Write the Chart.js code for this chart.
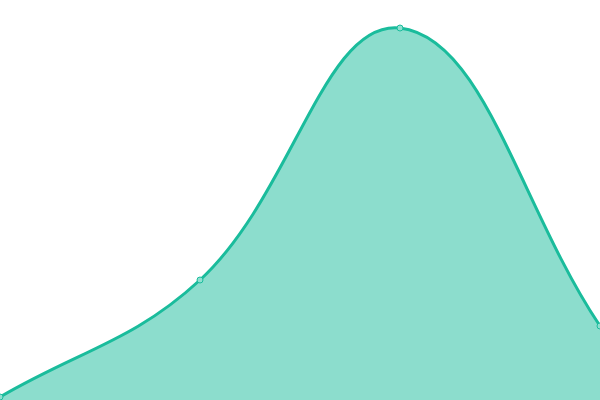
<!DOCTYPE html>
<html>
<head>
<meta charset="utf-8">
<script src="https://cdn.jsdelivr.net/npm/chart.js@4/dist/chart.umd.min.js"></script>
<style>
  html, body { margin: 0; padding: 0; background: #fff; }
  #wrap { width: 600px; height: 400px; }
</style>
</head>
<body>
<div id="wrap"><canvas id="chart"></canvas></div>
<script>
// data (y scale 0..100)
const labels = ['A', 'B', 'C', 'D'];
const values = [0.75, 30, 93, 18.5];

new Chart(document.getElementById('chart').getContext('2d'), {
  type: 'line',
  data: {
    labels,
    datasets: [{
      data: values,
      borderColor: '#1abc9c',
      backgroundColor: 'rgba(26,188,156,0.5)',
      pointBackgroundColor: '#8fe0d0',
      pointBorderColor: '#1abc9c',
      pointBorderWidth: 1,
      pointRadius: 3,
      borderWidth: 3,
      fill: true,
      tension: 0.4
    }]
  },
  options: {
    responsive: true, maintainAspectRatio: false, animation: false,
    layout: { padding: 0, autoPadding: false },
    plugins: { legend: { display: false }, tooltip: { enabled: false } },
    scales: {
      x: { display: false },
      y: { display: false, min: 0, max: 100 }
    }
  }
});
</script>
</body>
</html>
